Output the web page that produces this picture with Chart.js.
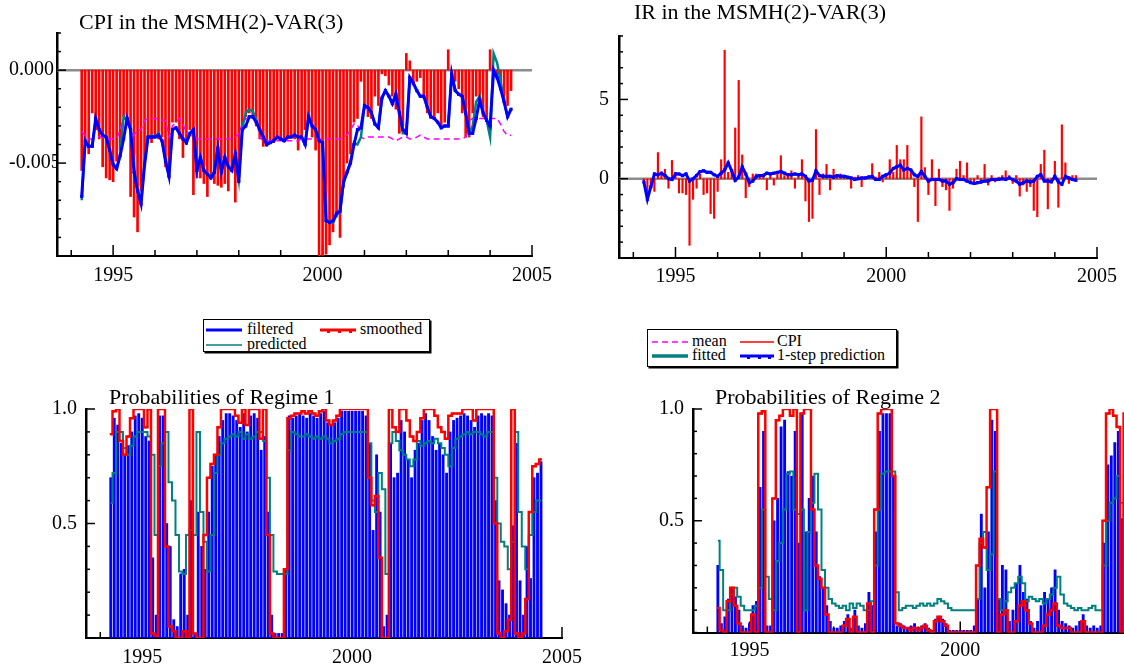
<!DOCTYPE html>
<html>
<head>
<meta charset="utf-8">
<title>MSMH(2)-VAR(3)</title>
<script src="https://cdn.jsdelivr.net/npm/chart.js@4.4.1/dist/chart.umd.min.js"></script>
<style>
  html, body { margin: 0; padding: 0; background: #fff; }
  body { width: 1124px; height: 668px; position: relative; overflow: hidden;
         font-family: 'Liberation Serif', 'Times New Roman', serif; color: #000; }
  canvas { position: absolute; }
  .title { position: absolute; font-size: 22px; line-height: 26px; white-space: nowrap; }
  .legend-box { position: absolute; border: 1.5px solid #000; box-shadow: 1.5px 1.5px 0 #000; }
  .legend-text { position: absolute; font-size: 16px; line-height: 18px; white-space: nowrap; }
  .swatch { position: absolute; }
</style>
</head>
<body>
<canvas id="cpiChart" width="560" height="290" style="left:0;top:0"></canvas>
<canvas id="irChart" width="564" height="290" style="left:560px;top:0"></canvas>
<canvas id="reg1Chart" width="590" height="288" style="left:0;top:380px"></canvas>
<canvas id="reg2Chart" width="600" height="288" style="left:600px;top:380px"></canvas>

<div class="title" style="left:79px;top:9px">CPI in the MSMH(2)-VAR(3)</div>
<div class="title" style="left:634px;top:-1px">IR in the MSMH(2)-VAR(3)</div>
<div class="title" style="left:109px;top:384px">Probabilities of Regime 1</div>
<div class="title" style="left:715px;top:384px">Probabilities of Regime 2</div>

<!-- legend for the probability panels -->
<div class="legend-box" style="left:203px;top:319px;width:225px;height:31px"></div>
<svg class="swatch" style="left:206px;top:327px" width="36" height="6"><line x1="0" y1="3" x2="36" y2="3" stroke="#0000ff" stroke-width="3"/></svg>
<div class="legend-text" style="left:247px;top:320px">filtered</div>
<svg class="swatch" style="left:320px;top:327px" width="36" height="7"><line x1="0" y1="3" x2="36" y2="3" stroke="#ff0000" stroke-width="3"/><rect x="7" y="2" width="3" height="4" fill="#ff0000"/><rect x="18" y="2" width="3" height="4" fill="#ff0000"/><rect x="29" y="2" width="3" height="4" fill="#ff0000"/></svg>
<div class="legend-text" style="left:360px;top:320px">smoothed</div>
<svg class="swatch" style="left:206px;top:342px" width="36" height="6"><line x1="0" y1="3" x2="36" y2="3" stroke="#008080" stroke-width="1.5"/></svg>
<div class="legend-text" style="left:247px;top:335px">predicted</div>

<!-- legend for the CPI / IR panels -->
<div class="legend-box" style="left:647px;top:329px;width:248px;height:36px"></div>
<svg class="swatch" style="left:652px;top:339px" width="36" height="6"><line x1="0" y1="3" x2="36" y2="3" stroke="#ff00ff" stroke-width="1.5" stroke-dasharray="6,4"/></svg>
<div class="legend-text" style="left:692px;top:332px">mean</div>
<svg class="swatch" style="left:740px;top:339px" width="34" height="6"><line x1="0" y1="3" x2="34" y2="3" stroke="#ff0000" stroke-width="1.5"/></svg>
<div class="legend-text" style="left:777px;top:332px">CPI</div>
<svg class="swatch" style="left:652px;top:353px" width="36" height="6"><line x1="0" y1="3" x2="36" y2="3" stroke="#008080" stroke-width="3.5"/></svg>
<div class="legend-text" style="left:692px;top:346px">fitted</div>
<svg class="swatch" style="left:740px;top:353px" width="34" height="7"><line x1="0" y1="3" x2="34" y2="3" stroke="#0000ff" stroke-width="3"/><rect x="7" y="2" width="3" height="4" fill="#0000ff"/><rect x="18" y="2" width="3" height="4" fill="#0000ff"/><rect x="28" y="2" width="3" height="4" fill="#0000ff"/></svg>
<div class="legend-text" style="left:777px;top:346px">1-step prediction</div>

<script>
// monthly observations, first one is 1994(4)
const startYear = 1994.25;

const yearTicks = [1994, 1995, 1996, 1997, 1998, 1999, 2000, 2001, 2002, 2003, 2004, 2005];
const labelledYears = [1995, 2000, 2005];

const cpiTicks = [-0.010, -0.009, -0.008, -0.007, -0.006, -0.005, -0.004, -0.003, -0.002, -0.001, 0, 0.001, 0.002];
const cpiLabelled = [0, -0.005];
const irTicks = [-5, -4, -3, -2, -1, 0, 1, 2, 3, 4, 5, 6, 7, 8, 9];
const irLabelled = [0, 5];
const probTicks = [0, 0.1, 0.2, 0.3, 0.4, 0.5, 0.6, 0.7, 0.8, 0.9, 1];
const probLabelled = [0.5, 1];

// CPI panel
const cpi = [
  -0.0054, -0.0037, -0.0045, -0.0023, -0.0032, -0.0037, -0.0052, -0.0058, -0.0059, -0.0060, -0.0049, -0.0043,
  -0.0025, -0.0027, -0.0068, -0.0079, -0.0087, -0.0065, -0.0050, -0.0036, -0.0039, -0.0036, -0.0037, -0.0036,
  -0.0052, -0.0058, -0.0028, -0.0028, -0.0037, -0.0047, -0.0040, -0.0032, -0.0067, -0.0058, -0.0058, -0.0061,
  -0.0068, -0.0058, -0.0061, -0.0062, -0.0063, -0.0061, -0.0065, -0.0054, -0.0071, -0.0058, -0.0030, -0.0025,
  -0.0023, -0.0026, -0.0030, -0.0037, -0.0041, -0.0041, -0.0039, -0.0039, -0.0037, -0.0037, -0.0038, -0.0037,
  -0.0036, -0.0037, -0.0043, -0.0036, -0.0032, -0.0024, -0.0036, -0.0043, -0.0100, -0.0100, -0.0099, -0.0094,
  -0.0087, -0.0079, -0.0090, -0.0063, -0.0050, -0.0045, -0.0028, -0.0026, -0.0006, -0.0021, -0.0025, -0.0026,
  -0.0014, -0.0019, -0.0002, -0.0003, -0.0008, -0.0014, -0.0021, -0.0034, -0.0030, 0.0009, 0.0005, -0.0008,
  -0.0006, -0.0004, -0.0015, -0.0023, -0.0026, -0.0025, -0.0023, -0.0030, -0.0028, 0.0011, -0.0001, -0.0006,
  -0.0010, -0.0023, -0.0036, -0.0036, -0.0023, -0.0014, -0.0019, -0.0025, -0.0027, 0.0011, -0.0001, -0.0003,
  -0.0008, -0.0016, -0.0019, -0.0011
];
const cpiPrediction = [
  -0.0068, -0.0038, -0.0041, -0.0041, -0.0026, -0.0032, -0.0035, -0.0036, -0.0043, -0.0051, -0.0053, -0.0046,
  -0.0037, -0.0026, -0.0032, -0.0055, -0.0065, -0.0072, -0.0051, -0.0036, -0.0036, -0.0036, -0.0035, -0.0038,
  -0.0049, -0.0057, -0.0032, -0.0031, -0.0034, -0.0037, -0.0039, -0.0034, -0.0032, -0.0054, -0.0047, -0.0054,
  -0.0056, -0.0058, -0.0055, -0.0042, -0.0055, -0.0047, -0.0052, -0.0054, -0.0045, -0.0060, -0.0032, -0.0030,
  -0.0025, -0.0025, -0.0028, -0.0032, -0.0036, -0.0040, -0.0039, -0.0038, -0.0036, -0.0037, -0.0038, -0.0036,
  -0.0036, -0.0035, -0.0036, -0.0036, -0.0040, -0.0025, -0.0030, -0.0032, -0.0038, -0.0039, -0.0081, -0.0082,
  -0.0081, -0.0077, -0.0076, -0.0060, -0.0055, -0.0050, -0.0040, -0.0032, -0.0031, -0.0019, -0.0020, -0.0023,
  -0.0029, -0.0031, -0.0015, -0.0011, -0.0014, -0.0018, -0.0013, -0.0023, -0.0032, -0.0034, -0.0004, -0.0007,
  -0.0011, -0.0014, -0.0014, -0.0020, -0.0025, -0.0026, -0.0028, -0.0031, -0.0030, -0.0030, -0.0002, -0.0011,
  -0.0013, -0.0014, -0.0023, -0.0034, -0.0034, -0.0026, -0.0016, -0.0023, -0.0027, -0.0030, 0.0000, -0.0004,
  -0.0010, -0.0017, -0.0025, -0.0021
];
const cpiFitted = [
  -0.0070, -0.0038, -0.0041, -0.0041, -0.0027, -0.0032, -0.0035, -0.0036, -0.0043, -0.0050, -0.0053, -0.0046,
  -0.0025, -0.0027, -0.0032, -0.0053, -0.0064, -0.0071, -0.0050, -0.0036, -0.0035, -0.0036, -0.0034, -0.0038,
  -0.0048, -0.0056, -0.0032, -0.0031, -0.0034, -0.0037, -0.0039, -0.0034, -0.0032, -0.0053, -0.0047, -0.0054,
  -0.0056, -0.0057, -0.0055, -0.0042, -0.0054, -0.0047, -0.0052, -0.0053, -0.0045, -0.0059, -0.0031, -0.0023,
  -0.0021, -0.0022, -0.0027, -0.0032, -0.0036, -0.0040, -0.0039, -0.0038, -0.0036, -0.0037, -0.0038, -0.0036,
  -0.0036, -0.0035, -0.0036, -0.0036, -0.0040, -0.0025, -0.0030, -0.0032, -0.0038, -0.0039, -0.0081, -0.0082,
  -0.0082, -0.0078, -0.0076, -0.0061, -0.0055, -0.0049, -0.0039, -0.0040, -0.0036, -0.0019, -0.0020, -0.0023,
  -0.0029, -0.0031, -0.0015, -0.0011, -0.0014, -0.0018, -0.0013, -0.0023, -0.0034, -0.0034, -0.0004, -0.0007,
  -0.0011, -0.0014, -0.0014, -0.0020, -0.0025, -0.0026, -0.0028, -0.0031, -0.0030, -0.0030, -0.0002, -0.0011,
  -0.0013, -0.0014, -0.0023, -0.0034, -0.0030, -0.0017, -0.0014, -0.0023, -0.0027, -0.0036, 0.0009, 0.0004,
  -0.0006, -0.0017, -0.0025, -0.0021
];
const cpiMean = [
  -0.0033, -0.0035, -0.0037, -0.0037, -0.0036, -0.0036, -0.0036, -0.0037, -0.0037, -0.0037, -0.0037, -0.0032,
  -0.0026, -0.0026, -0.0033, -0.0035, -0.0032, -0.0032, -0.0027, -0.0026, -0.0026, -0.0026, -0.0026, -0.0027,
  -0.0027, -0.0036, -0.0030, -0.0028, -0.0026, -0.0029, -0.0034, -0.0035, -0.0036, -0.0037, -0.0037, -0.0037,
  -0.0037, -0.0037, -0.0037, -0.0037, -0.0037, -0.0037, -0.0037, -0.0037, -0.0036, -0.0034, -0.0029, -0.0026,
  -0.0026, -0.0026, -0.0026, -0.0036, -0.0038, -0.0038, -0.0038, -0.0038, -0.0038, -0.0038, -0.0038, -0.0038,
  -0.0038, -0.0038, -0.0038, -0.0037, -0.0037, -0.0037, -0.0037, -0.0037, -0.0037, -0.0037, -0.0037, -0.0037,
  -0.0037, -0.0037, -0.0037, -0.0036, -0.0035, -0.0032, -0.0029, -0.0029, -0.0036, -0.0037, -0.0036, -0.0036,
  -0.0036, -0.0036, -0.0036, -0.0036, -0.0036, -0.0037, -0.0038, -0.0037, -0.0036, -0.0036, -0.0037, -0.0037,
  -0.0036, -0.0035, -0.0036, -0.0037, -0.0037, -0.0037, -0.0037, -0.0037, -0.0037, -0.0037, -0.0037, -0.0037,
  -0.0037, -0.0037, -0.0036, -0.0027, -0.0026, -0.0026, -0.0026, -0.0026, -0.0026, -0.0026, -0.0026, -0.0026,
  -0.0029, -0.0033, -0.0035, -0.0035
];

// IR panel
const ir = [
  -0.2, -1.3, -0.4, -0.8, 1.65, 0.3, 0.6, -0.6, 1.15, 0.4, -0.9, -0.9,
  -1.0, -4.2, -1.3, -0.6, 0.3, -1.0, -0.9, -2.2, -2.5, -0.8, 1.2, 8.1,
  0.4, 0.5, 3.2, 6.2, 1.5, -1.2, -0.5, 0.3, 0.3, 0.2, 0.3, -0.7,
  0.2, -0.4, 0.3, 1.45, 0.2, 0.3, 0.5, -0.6, 0.3, 1.2, -1.4, -2.7,
  -2.5, 3.1, -1.0, 0.3, 0.9, -0.7, 0.6, 0.2, 0.3, 0.2, 0.1, -0.6,
  0.1, 0.2, -0.5, 0.1, 0.2, 0.95, 0.1, 0.4, -0.2, 0.3, 1.2, 0.4,
  2.1, 1.2, 1.2, 2.1, 0.4, -0.5, -2.7, 3.9, 0.7, -1.0, 1.2, -1.7,
  0.6, -0.5, -0.7, -2.0, -0.6, 0.6, 1.1, 0.2, 1.0, -0.2, -0.3, 0.2,
  -0.3, 0.9, -0.4, 0.2, -0.2, 0.1, 0.2, 0.5, 0.2, -0.3, 0.2, -1.1,
  -0.4, -0.8, -0.5, -2.0, -2.4, 0.9, 1.8, -1.9, -0.2, 1.1, -1.8, 3.4,
  1.0, -0.3, 0.2, 0.2
];
const irPrediction = [
  -0.2, -1.3, -0.5, 0.3, 0.25, 0.35, 0.2, 0.0, -0.05, 0.3, 0.3, 0.2,
  0.3, -0.15, 0.0, 0.2, 0.45, 0.5, 0.4, 0.4, 0.25, 0.15, 0.35, 0.55,
  1.0, 0.5, -0.1, 0.1, 0.75, 0.3, -0.25, -0.15, 0.15, 0.2, 0.2, 0.35,
  0.3, 0.35, 0.4, 0.45, 0.35, 0.25, 0.25, 0.3, 0.25, 0.3, 0.15, -0.15,
  -0.1, 0.5, 0.2, 0.15, 0.15, 0.15, 0.1, 0.2, 0.15, 0.15, 0.1, 0.05,
  -0.05, 0.0, 0.05, 0.05, 0.1, 0.15, -0.05, -0.05, 0.15, 0.25, 0.35, 0.65,
  0.75, 0.85, 0.55, 0.65, 0.55, 0.25, 0.15, 0.45, 0.15, -0.15, -0.05, -0.05,
  -0.05, -0.15, -0.15, -0.35, -0.25, 0.0, -0.05, -0.05, -0.15, -0.25, -0.3, -0.25,
  -0.2, -0.15, -0.15, -0.05, -0.05, -0.05, 0.0, -0.05, 0.05, -0.05, -0.15, -0.35,
  -0.25, -0.15, -0.2, -0.15, 0.15, 0.25, -0.15, -0.15, -0.2, 0.15, -0.2, -0.35,
  0.15, 0.05, -0.05, -0.1
];

// regime probabilities
const reg1Filtered = [
  0.70, 0.96, 0.93, 0.85, 0.80, 0.84, 0.90, 0.97, 0.98, 0.96, 0.88, 0.86,
  0.35, 0.10, 0.97, 0.97, 0.50, 0.40, 0.08, 0.05, 0.28, 0.30, 0.10, 0.60,
  0.02, 0.55, 0.40, 0.30, 0.55, 0.75, 0.80, 0.88, 0.95, 0.98, 0.98, 0.97,
  0.95, 0.92, 0.98, 0.90, 0.97, 0.98, 0.96, 0.82, 0.88, 0.55, 0.10, 0.02,
  0.02, 0.02, 0.30, 0.97, 0.96, 0.97, 0.98, 0.97, 0.96, 0.98, 0.97, 0.96,
  0.98, 0.99, 0.94, 0.93, 0.94, 0.96, 0.99, 0.99, 0.99, 0.99, 0.99, 0.99,
  0.99, 0.97, 0.85, 0.47, 0.80, 0.55, 0.05, 0.10, 0.85, 0.70, 0.72, 0.95,
  0.90, 0.78, 0.70, 0.82, 0.85, 0.95, 0.98, 0.95, 0.88, 0.82, 0.85, 0.80,
  0.72, 0.90, 0.95, 0.96, 0.97, 0.98, 0.97, 0.95, 0.92, 0.97, 0.98, 0.97,
  0.98, 0.97, 0.60, 0.25, 0.21, 0.15, 0.10, 0.49, 0.85, 0.25, 0.10, 0.40,
  0.26, 0.70, 0.72, 0.77
];
const reg1Smoothed = [
  0.89, 0.99, 1.00, 0.86, 0.80, 0.88, 0.96, 1.00, 1.00, 1.00, 0.92, 1.00,
  0.02, 0.01, 1.00, 1.00, 0.40, 0.05, 0.03, 0.00, 0.00, 0.03, 0.00, 1.00,
  0.02, 0.00, 0.00, 0.45, 0.70, 0.76, 0.80, 0.92, 1.00, 1.00, 1.00, 1.00,
  0.97, 0.94, 1.00, 0.93, 1.00, 1.00, 1.00, 0.87, 1.00, 0.45, 0.02, 0.00,
  0.00, 0.00, 0.30, 0.96, 0.97, 0.98, 0.98, 0.99, 0.98, 0.99, 0.98, 0.97,
  0.99, 1.00, 0.95, 0.93, 0.95, 0.97, 1.00, 1.00, 1.00, 1.00, 1.00, 1.00,
  1.00, 1.00, 0.70, 0.58, 0.62, 0.35, 0.00, 0.00, 1.00, 0.92, 0.90, 1.00,
  1.00, 0.95, 0.88, 0.86, 0.90, 0.96, 1.00, 1.00, 1.00, 0.97, 0.92, 0.90,
  0.87, 0.97, 0.98, 0.98, 0.98, 1.00, 1.00, 1.00, 0.95, 1.00, 1.00, 1.00,
  1.00, 1.00, 0.50, 0.02, 0.00, 0.03, 0.08, 1.00, 0.02, 0.00, 0.02, 0.17,
  0.55, 0.75, 0.76, 0.78
];
const reg1Predicted = [
  0.59, 0.72, 0.90, 0.90, 0.83, 0.80, 0.84, 0.88, 0.90, 0.90, 0.90, 0.88,
  0.80, 0.45, 0.75, 0.85, 0.90, 0.68, 0.60, 0.45, 0.29, 0.28, 0.45, 0.47,
  0.45, 0.90, 0.55, 0.42, 0.29, 0.45, 0.72, 0.80, 0.85, 0.87, 0.88, 0.89,
  0.88, 0.90, 0.87, 0.89, 0.87, 0.88, 0.90, 0.90, 0.86, 0.70, 0.45, 0.29,
  0.28, 0.28, 0.28, 0.82, 0.90, 0.89, 0.88, 0.88, 0.89, 0.88, 0.87, 0.88,
  0.87, 0.88, 0.87, 0.85, 0.86, 0.87, 0.89, 0.90, 0.90, 0.90, 0.90, 0.90,
  0.90, 0.90, 0.85, 0.60, 0.55, 0.72, 0.65, 0.28, 0.85, 0.90, 0.86, 0.82,
  0.80, 0.78, 0.75, 0.78, 0.86, 0.84, 0.85, 0.86, 0.85, 0.87, 0.85, 0.83,
  0.80, 0.75, 0.83, 0.87, 0.88, 0.89, 0.90, 0.89, 0.90, 0.90, 0.89, 0.88,
  0.90, 0.90, 0.70, 0.50, 0.42, 0.40, 0.30, 0.42, 0.90, 0.55, 0.40, 0.30,
  0.45, 0.55, 0.60, 0.60
];
const reg2Filtered = [
  0.30, 0.04, 0.07, 0.15, 0.20, 0.16, 0.10, 0.03, 0.02, 0.04, 0.12, 0.14,
  0.65, 0.90, 0.03, 0.03, 0.50, 0.60, 0.92, 0.95, 0.72, 0.70, 0.90, 0.40,
  0.98, 0.45, 0.60, 0.70, 0.45, 0.25, 0.20, 0.12, 0.05, 0.02, 0.02, 0.03,
  0.05, 0.08, 0.02, 0.10, 0.03, 0.02, 0.04, 0.18, 0.12, 0.45, 0.90, 0.98,
  0.98, 0.98, 0.70, 0.03, 0.04, 0.03, 0.02, 0.03, 0.04, 0.02, 0.03, 0.04,
  0.02, 0.01, 0.06, 0.07, 0.06, 0.04, 0.01, 0.01, 0.01, 0.01, 0.01, 0.01,
  0.01, 0.03, 0.15, 0.53, 0.20, 0.45, 0.95, 0.90, 0.15, 0.30, 0.28, 0.05,
  0.10, 0.22, 0.30, 0.18, 0.15, 0.05, 0.02, 0.05, 0.12, 0.18, 0.15, 0.20,
  0.28, 0.10, 0.05, 0.04, 0.03, 0.02, 0.03, 0.05, 0.08, 0.03, 0.02, 0.03,
  0.02, 0.03, 0.40, 0.75, 0.79, 0.85, 0.90, 0.51, 0.15, 0.75, 0.90, 0.60,
  0.74, 0.30, 0.28, 0.23
];
const reg2Smoothed = [
  0.11, 0.01, 0.00, 0.14, 0.20, 0.12, 0.04, 0.00, 0.00, 0.00, 0.08, 0.00,
  0.98, 0.99, 0.00, 0.00, 0.60, 0.95, 0.97, 1.00, 1.00, 0.97, 1.00, 0.00,
  0.98, 1.00, 1.00, 0.55, 0.30, 0.24, 0.20, 0.08, 0.00, 0.00, 0.00, 0.00,
  0.03, 0.06, 0.00, 0.07, 0.00, 0.00, 0.00, 0.13, 0.00, 0.55, 0.98, 1.00,
  1.00, 1.00, 0.70, 0.04, 0.03, 0.02, 0.02, 0.01, 0.02, 0.01, 0.02, 0.03,
  0.01, 0.00, 0.05, 0.07, 0.05, 0.03, 0.00, 0.00, 0.00, 0.00, 0.00, 0.00,
  0.00, 0.00, 0.30, 0.42, 0.38, 0.65, 1.00, 1.00, 0.00, 0.08, 0.10, 0.00,
  0.00, 0.05, 0.12, 0.14, 0.10, 0.04, 0.00, 0.00, 0.00, 0.03, 0.08, 0.10,
  0.13, 0.03, 0.02, 0.02, 0.02, 0.00, 0.00, 0.00, 0.05, 0.00, 0.00, 0.00,
  0.00, 0.00, 0.50, 0.98, 1.00, 0.97, 0.92, 0.00, 0.98, 1.00, 0.98, 0.83,
  0.45, 0.25, 0.24, 0.22
];
const reg2Predicted = [
  0.41, 0.28, 0.10, 0.10, 0.17, 0.20, 0.16, 0.12, 0.10, 0.10, 0.10, 0.12,
  0.20, 0.55, 0.25, 0.15, 0.10, 0.32, 0.40, 0.55, 0.71, 0.72, 0.55, 0.53,
  0.55, 0.10, 0.45, 0.58, 0.71, 0.55, 0.28, 0.20, 0.15, 0.13, 0.12, 0.11,
  0.12, 0.10, 0.13, 0.11, 0.13, 0.12, 0.10, 0.10, 0.14, 0.30, 0.55, 0.71,
  0.72, 0.72, 0.72, 0.18, 0.10, 0.11, 0.12, 0.12, 0.11, 0.12, 0.13, 0.12,
  0.13, 0.12, 0.13, 0.15, 0.14, 0.13, 0.11, 0.10, 0.10, 0.10, 0.10, 0.10,
  0.10, 0.10, 0.15, 0.40, 0.45, 0.28, 0.35, 0.72, 0.15, 0.10, 0.14, 0.18,
  0.20, 0.22, 0.25, 0.22, 0.14, 0.16, 0.15, 0.14, 0.15, 0.13, 0.15, 0.17,
  0.20, 0.25, 0.17, 0.13, 0.12, 0.11, 0.10, 0.11, 0.10, 0.10, 0.11, 0.12,
  0.10, 0.10, 0.30, 0.50, 0.58, 0.60, 0.70, 0.58, 0.10, 0.45, 0.60, 0.70,
  0.55, 0.45, 0.40, 0.40
];

const months = cpi.map((v, i) => startYear + i / 12);

function toPoints(values) {
    return values.map((v, i) => ({ x: months[i], y: v }));
}

const SERIF = "'Liberation Serif', 'Times New Roman', serif";

// inward tick marks and the grey zero line, drawn under the data
const axisMarks = {
    id: 'axisMarks',
    beforeDatasetsDraw(chart, args, opts) {
        const ctx = chart.ctx;
        const area = chart.chartArea;
        const xScale = chart.scales.x;
        const yScale = chart.scales.y;
        ctx.save();
        if (opts.zeroLine) {
            const y0 = yScale.getPixelForValue(0);
            ctx.strokeStyle = '#8c8c8c';
            ctx.lineWidth = 2.5;
            ctx.beginPath();
            ctx.moveTo(area.left, y0);
            ctx.lineTo(area.right, y0);
            ctx.stroke();
        }
        ctx.strokeStyle = '#000';
        ctx.lineWidth = 1.5;
        xScale.ticks.forEach(tick => {
            const x = xScale.getPixelForValue(tick.value);
            const len = labelledYears.includes(tick.value) ? 11 : 6;
            ctx.beginPath();
            ctx.moveTo(x, area.bottom);
            ctx.lineTo(x, area.bottom - len);
            ctx.stroke();
        });
        yScale.ticks.forEach(tick => {
            const y = yScale.getPixelForValue(tick.value);
            const len = opts.yMajor.includes(tick.value) ? 9 : 4;
            ctx.beginPath();
            ctx.moveTo(area.left, y);
            ctx.lineTo(area.left + len, y);
            ctx.stroke();
        });
        ctx.restore();
    }
};

function buildChart(canvasId, datasets, setup) {
    const ctx = document.getElementById(canvasId).getContext('2d');
    return new Chart(ctx, {
        type: 'bar',
        data: { datasets: datasets },
        plugins: [axisMarks],
        options: {
            responsive: false,
            animation: false,
            devicePixelRatio: 1,
            layout: { padding: setup.padding },
            plugins: {
                legend: { display: false },
                tooltip: { enabled: false },
                axisMarks: { zeroLine: setup.zeroLine, yMajor: setup.yLabelled }
            },
            scales: {
                x: {
                    type: 'linear',
                    min: 1993.66,
                    max: 2005,
                    offset: false,
                    grid: { display: false, drawTicks: false },
                    border: { display: true, color: '#000', width: 2 },
                    afterBuildTicks: scale => {
                        scale.ticks = yearTicks.map(v => ({ value: v }));
                    },
                    afterFit: scale => {
                        scale.height = setup.xHeight;
                    },
                    ticks: {
                        autoSkip: false,
                        maxRotation: 0,
                        padding: setup.xPad,
                        color: '#000',
                        font: { family: SERIF, size: 20 },
                        callback: value => labelledYears.includes(value) ? String(value) : ''
                    }
                },
                y: {
                    type: 'linear',
                    min: setup.yTicks[0],
                    max: setup.yTicks[setup.yTicks.length - 1],
                    grid: { display: false, drawTicks: false },
                    border: { display: true, color: '#000', width: 2.5 },
                    afterBuildTicks: scale => {
                        scale.ticks = setup.yTicks.map(v => ({ value: v }));
                    },
                    afterFit: scale => {
                        scale.width = setup.yWidth;
                    },
                    ticks: {
                        autoSkip: false,
                        padding: setup.yPad,
                        crossAlign: setup.crossAlign,
                        color: '#000',
                        font: { family: SERIF, size: 20 },
                        callback: value => setup.yLabelled.includes(value) ? value.toFixed(setup.digits) : ''
                    }
                }
            }
        }
    });
}

buildChart('cpiChart', [
    { type: 'line', data: toPoints(cpiPrediction), borderColor: '#0000ff', borderWidth: 3,
      pointRadius: 2.2, pointStyle: 'rect', pointBackgroundColor: '#0000ff', pointBorderWidth: 0, order: 1 },
    { type: 'line', data: toPoints(cpiFitted), borderColor: '#008080', borderWidth: 2.5, pointRadius: 0, order: 2 },
    { type: 'line', data: toPoints(cpiMean), borderColor: '#ff00ff', borderWidth: 1.5, borderDash: [6, 4],
      pointRadius: 0, order: 3 },
    { type: 'bar', data: toPoints(cpi), backgroundColor: '#ff0000', barThickness: 2, order: 4 }
], {
    padding: { left: 9, top: 33, right: 25, bottom: 0 },
    yWidth: 48, xHeight: 34, xPad: 8, yPad: 4, crossAlign: 'far',
    yTicks: cpiTicks, yLabelled: cpiLabelled, digits: 3, zeroLine: true
});

buildChart('irChart', [
    { type: 'line', data: toPoints(irPrediction), borderColor: '#0000ff', borderWidth: 3,
      pointRadius: 2.2, pointStyle: 'rect', pointBackgroundColor: '#0000ff', pointBorderWidth: 0, order: 1 },
    { type: 'bar', data: toPoints(ir), backgroundColor: '#ff0000', barThickness: 1.5, order: 2 }
], {
    padding: { left: 0, top: 36, right: 27, bottom: 0 },
    yWidth: 59, xHeight: 32, xPad: 7, yPad: 10, crossAlign: 'near',
    yTicks: irTicks, yLabelled: irLabelled, digits: 0, zeroLine: true
});

buildChart('reg1Chart', [
    { type: 'line', data: toPoints(reg1Smoothed), borderColor: '#ff0000', borderWidth: 2.5, stepped: 'middle',
      pointRadius: 1.5, pointStyle: 'rect', pointBackgroundColor: '#ff0000', pointBorderWidth: 0, order: 1 },
    { type: 'line', data: toPoints(reg1Predicted), borderColor: '#008080', borderWidth: 2, stepped: 'middle',
      pointRadius: 0, order: 2 },
    { type: 'bar', data: toPoints(reg1Filtered), backgroundColor: '#0000ff', barThickness: 2.2, order: 3 }
], {
    padding: { left: 0, top: 29, right: 26, bottom: 0 },
    yWidth: 86, xHeight: 30, xPad: 8, yPad: 9, crossAlign: 'near',
    yTicks: probTicks, yLabelled: probLabelled, digits: 1, zeroLine: false
});

buildChart('reg2Chart', [
    { type: 'line', data: toPoints(reg2Smoothed), borderColor: '#ff0000', borderWidth: 2.5, stepped: 'middle',
      pointRadius: 1.5, pointStyle: 'rect', pointBackgroundColor: '#ff0000', pointBorderWidth: 0, order: 1 },
    { type: 'line', data: toPoints(reg2Predicted), borderColor: '#008080', borderWidth: 2, stepped: 'middle',
      pointRadius: 0, order: 2 },
    { type: 'bar', data: toPoints(reg2Filtered), backgroundColor: '#0000ff', barThickness: 2.2, order: 3 }
], {
    padding: { left: 0, top: 29, right: 29, bottom: 0 },
    yWidth: 93, xHeight: 35.5, xPad: 6, yPad: 9, crossAlign: 'near',
    yTicks: probTicks, yLabelled: probLabelled, digits: 1, zeroLine: false
});
</script>
